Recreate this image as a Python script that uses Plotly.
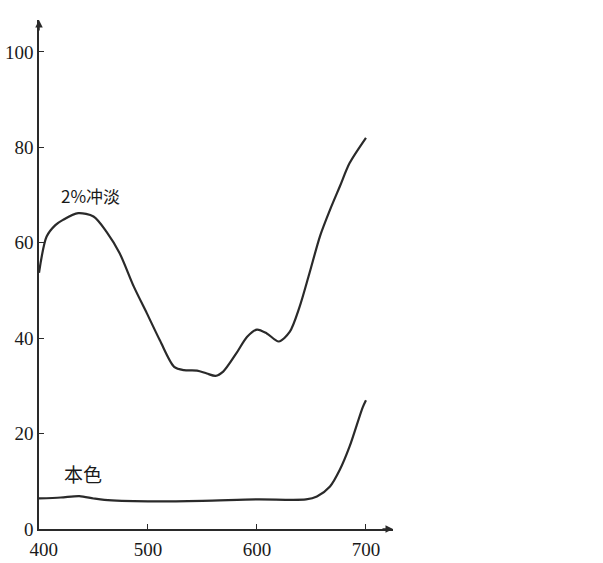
import plotly.graph_objects as go

# Wavelength (nm) and reflectance (%)
wl_diluted = [400, 407, 415, 422, 436, 450, 462, 474, 487, 499, 511, 524, 533, 545,
              554, 562, 569, 581, 591, 600, 609, 620, 630, 639, 648, 658, 667, 676, 685, 700]
r_diluted = [53.7, 61.3, 63.7, 64.8, 66.2, 65.5, 62.3, 57.8, 50.8, 45.2, 39.5, 34.0, 33.3, 33.2,
             32.6, 32.1, 33.0, 36.8, 40.3, 41.8, 41.0, 39.3, 41.3, 46.5, 53.5, 61.5, 66.9, 71.8, 76.7, 82.0]

wl_base = [400, 420, 437, 450, 460, 500, 550, 600, 645, 655, 667, 676, 685, 697, 700]
r_base = [6.4, 6.6, 6.9, 6.4, 6.1, 5.8, 5.9, 6.2, 6.2, 6.8, 8.9, 12.4, 17.3, 25.5, 27.0]

label_diluted = "2%冲淡"
label_base = "本色"
x_ticks = [400, 500, 600, 700]
x_tick_text = ["\u2002400", "500", "600", "700"]
y_ticks = [0, 20, 40, 60, 80, 100]

line_color = "#2a2a2a"
fig = go.Figure()
fig.add_trace(go.Scatter(x=wl_diluted, y=r_diluted, mode="lines",
                         line=dict(color=line_color, width=2.2, shape="spline", smoothing=0.8),
                         showlegend=False, hoverinfo="skip"))
fig.add_trace(go.Scatter(x=wl_base, y=r_base, mode="lines",
                         line=dict(color=line_color, width=2.2, shape="spline", smoothing=0.8),
                         showlegend=False, hoverinfo="skip"))

cjk = "Noto Sans CJK SC"
fig.add_annotation(x=446.8, y=69.9, text=label_diluted, showarrow=False,
                   font=dict(family=cjk, size=17, color="#1a1a1a"))
fig.add_annotation(x=440.4, y=11.7, text=label_base, showarrow=False,
                   font=dict(family=cjk, size=19, color="#1a1a1a"))

# axis arrows
fig.add_annotation(xref="paper", yref="paper", x=1, y=0, ax=-12, ay=0, text="",
                   showarrow=True, arrowhead=2, arrowsize=1, arrowwidth=1.5, arrowcolor=line_color)
fig.add_annotation(xref="paper", yref="paper", x=0, y=1, ax=0, ay=12, text="",
                   showarrow=True, arrowhead=2, arrowsize=1, arrowwidth=1.5, arrowcolor=line_color)

tick_font = dict(family="Liberation Serif", size=19, color="#1a1a1a")
fig.update_xaxes(range=[400, 724.8], tickvals=x_ticks, ticktext=x_tick_text, ticks="inside", ticklen=5,
                 tickcolor=line_color, showline=True, linecolor=line_color, linewidth=1.5,
                 showgrid=False, zeroline=False, tickfont=tick_font, automargin=False,
                 ticklabelstandoff=2)
fig.update_yaxes(range=[0, 106.7], tickvals=y_ticks, ticks="inside", ticklen=5,
                 tickcolor=line_color, showline=True, linecolor=line_color, linewidth=1.5,
                 showgrid=False, zeroline=False, tickfont=tick_font, automargin=False)
fig.update_layout(width=603, height=563, margin=dict(l=39, r=210, t=20, b=34),
                  plot_bgcolor="white", paper_bgcolor="white")
fig.write_html("out.html", config={"displayModeBar": False},
               post_script="document.body.style.margin='0';")
